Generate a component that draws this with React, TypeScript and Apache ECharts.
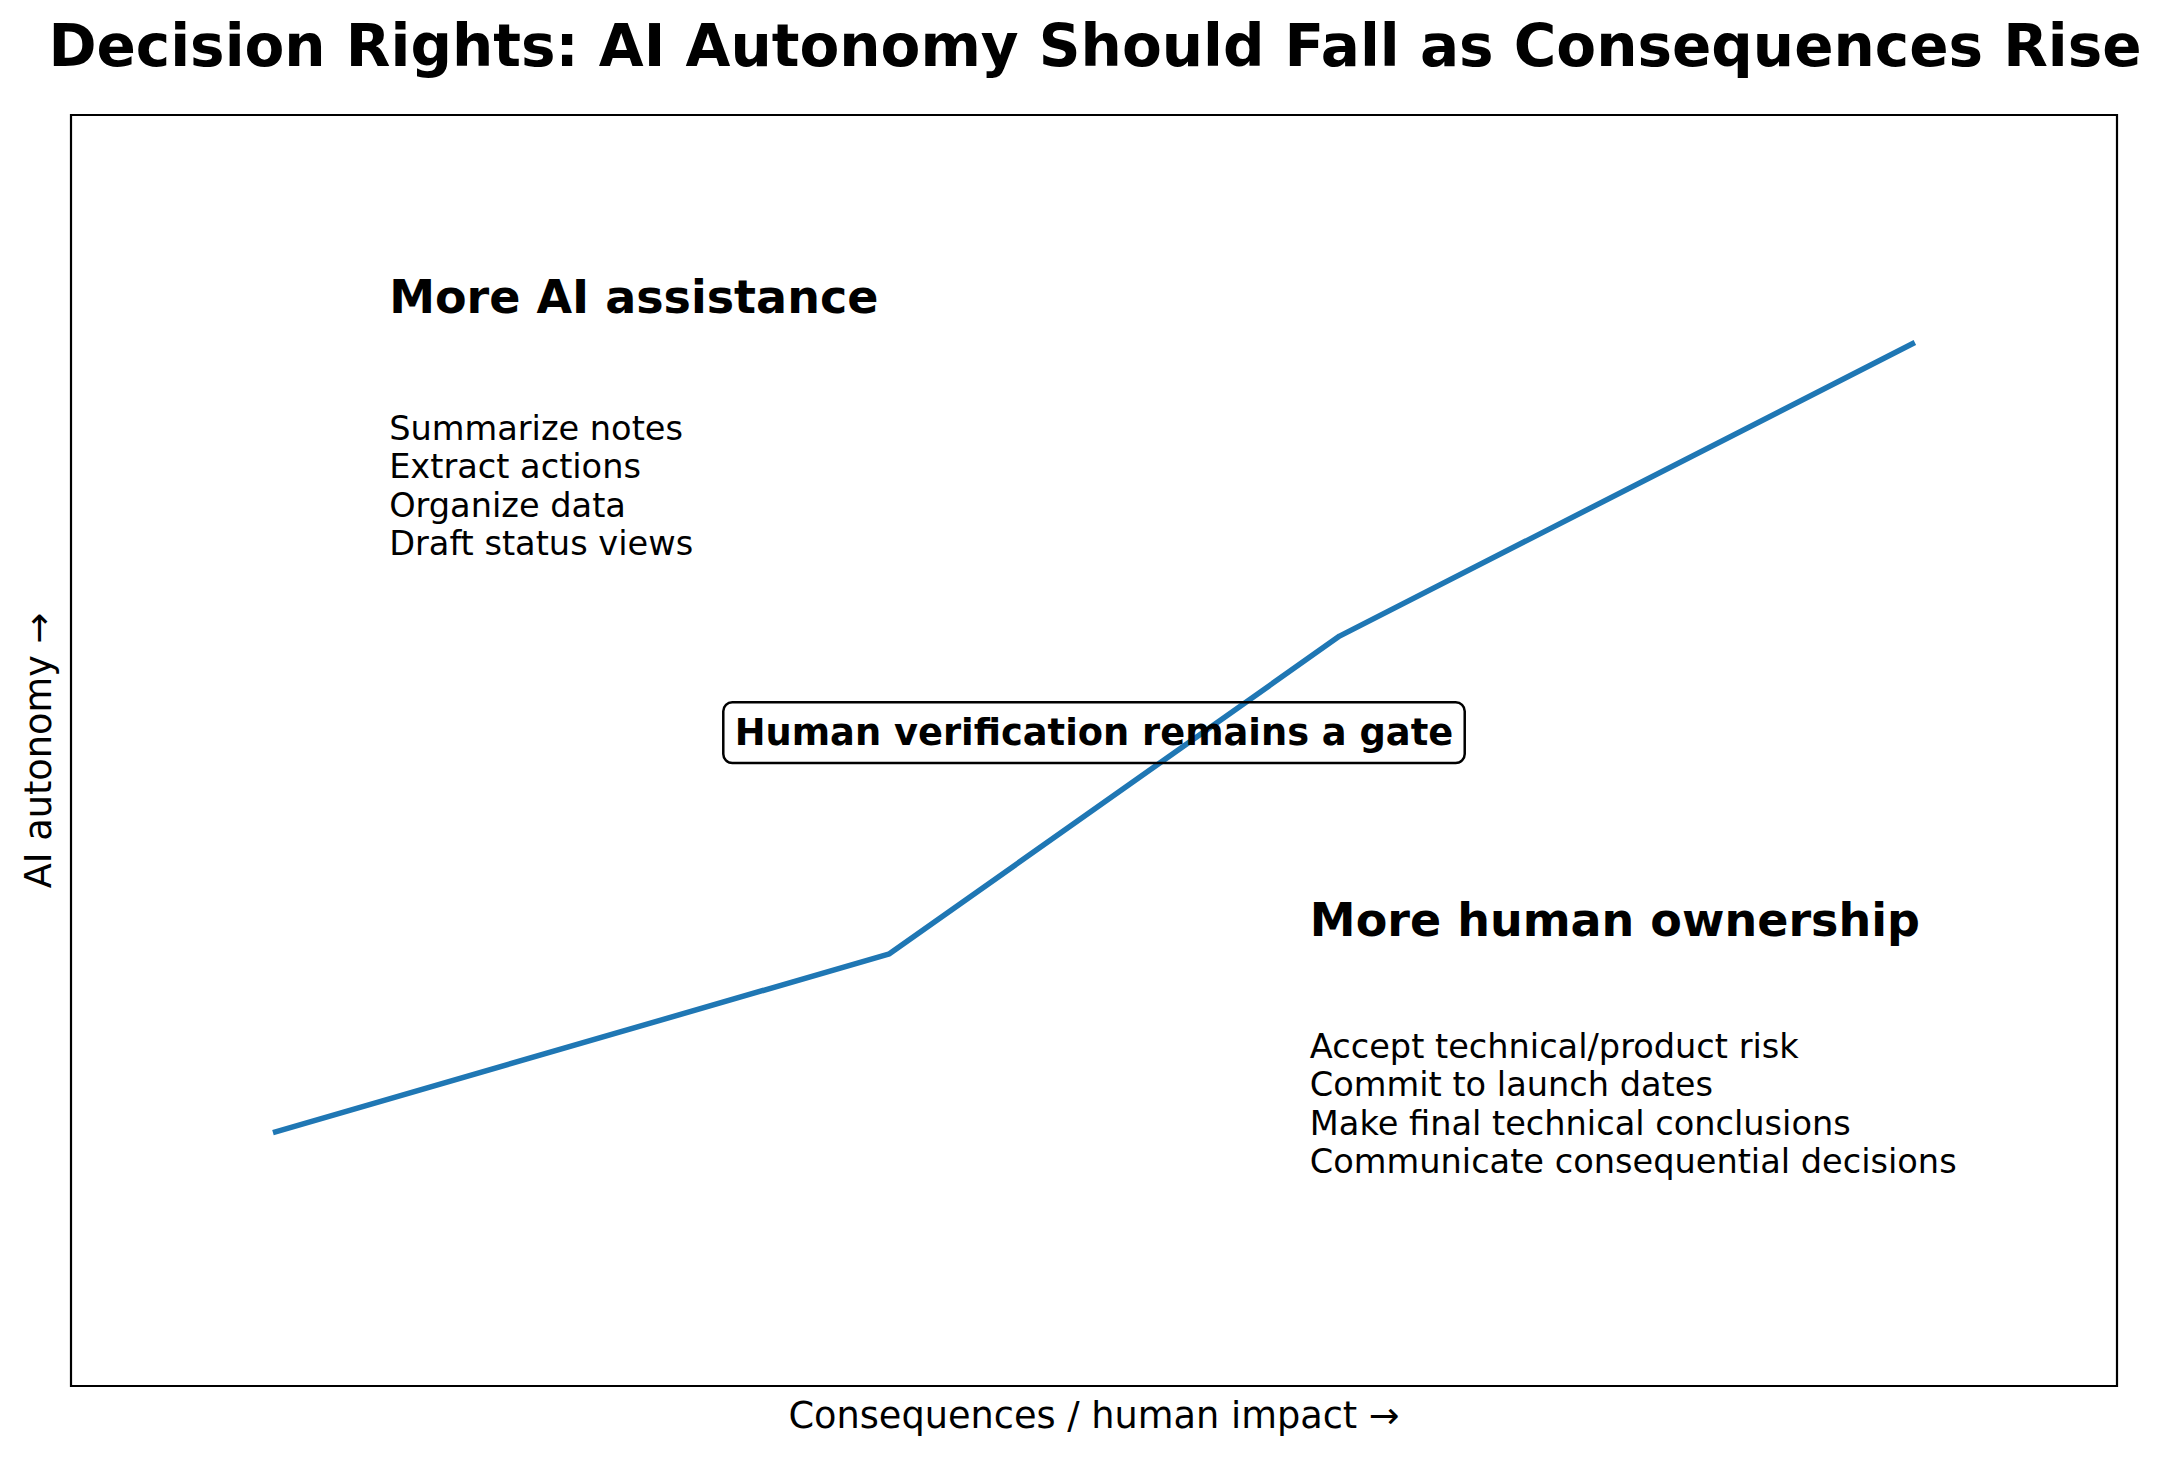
import React, { useEffect, useRef } from "react";
import * as echarts from "echarts";

const FONT = "'DejaVu Sans', 'Noto Sans', sans-serif";

// ---- data ----
const impactLevels = [0.1, 0.4, 0.62, 0.9];
const autonomyLevels = [0.2, 0.34, 0.59, 0.82];
const xRange = [0, 1];
const yRange = [0, 1];

// ---- texts ----
const chartTitle = "Decision Rights: AI Autonomy Should Fall as Consequences Rise";
const xAxisName = "Consequences / human impact →";
const yAxisName = "AI autonomy →";
const aiHeading = "More AI assistance";
const aiTasks = ["Summarize notes", "Extract actions", "Organize data", "Draft status views"];
const humanHeading = "More human ownership";
const humanTasks = [
  "Accept technical/product risk",
  "Commit to launch dates",
  "Make final technical conclusions",
  "Communicate consequential decisions",
];
const gateLabel = "Human verification remains a gate";

// ---- annotation anchors (data units) ----
const aiHeadingAt = [0.1555, 0.857];
const aiTasksAt = [0.1555, 0.7685];
const humanHeadingAt = [0.6055, 0.3665];
const humanTasksAt = [0.6055, 0.2822];
const gateAt = [0.5, 0.514];

export default function App() {
  const ref = useRef<HTMLDivElement>(null);

  useEffect(() => {
    if (!ref.current) return;
    const chart = echarts.init(ref.current, undefined, { renderer: "svg" });
    const lineData = impactLevels.map((x, i) => [x, autonomyLevels[i]]);

    chart.setOption({
      animation: false,
      backgroundColor: "#ffffff",
      title: {
        text: chartTitle,
        left: 1095,
        top: 17,
        textAlign: "center",
        padding: 0,
        textStyle: { fontFamily: FONT, fontSize: 58, fontWeight: "bold", color: "#000", lineHeight: 58 },
      },
      grid: {
        left: 71,
        top: 115,
        right: 45,
        bottom: 71,
        show: true,
        borderColor: "#000",
        borderWidth: 2.2,
        backgroundColor: "transparent",
        containLabel: false,
      },
      xAxis: {
        type: "value",
        min: xRange[0],
        max: xRange[1],
        name: xAxisName,
        nameLocation: "middle",
        nameGap: 11,
        nameTextStyle: { fontFamily: FONT, fontSize: 36.7, color: "#000", lineHeight: 36.7 },
        axisLine: { show: false },
        axisTick: { show: false },
        axisLabel: { show: false },
        splitLine: { show: false },
      },
      yAxis: {
        type: "value",
        min: yRange[0],
        max: yRange[1],
        name: yAxisName,
        nameLocation: "middle",
        nameRotate: 90,
        nameGap: 14,
        nameTextStyle: { fontFamily: FONT, fontSize: 36.7, color: "#000", lineHeight: 36.7 },
        axisLine: { show: false },
        axisTick: { show: false },
        axisLabel: { show: false },
        splitLine: { show: false },
      },
      series: [
        {
          type: "line",
          data: lineData,
          showSymbol: false,
          symbol: "none",
          lineStyle: { color: "#1f77b4", width: 5.5, cap: "square", join: "round" },
          z: 2,
        },
      ],
    });

    const px = (p: number[]) => chart.convertToPixel({ gridIndex: 0 }, p) as number[];
    const a1 = px(aiHeadingAt);
    const a2 = px(aiTasksAt);
    const h1 = px(humanHeadingAt);
    const h2 = px(humanTasksAt);
    const g = px(gateAt);

    const heading = (p: number[], text: string) => ({
      type: "text",
      x: p[0],
      y: p[1],
      z: 10,
      style: {
        text,
        fontFamily: FONT,
        fontSize: 46,
        fontWeight: "bold",
        fill: "#000",
        align: "left",
        verticalAlign: "middle",
      },
    });
    const list = (p: number[], lines: string[]) => ({
      type: "text",
      x: p[0],
      y: p[1],
      z: 10,
      style: {
        text: lines.join("\n"),
        fontFamily: FONT,
        fontSize: 33.6,
        lineHeight: 38.4,
        fill: "#000",
        align: "left",
        verticalAlign: "top",
      },
    });

    chart.setOption({
      graphic: [
        heading(a1, aiHeading),
        list(a2, aiTasks),
        heading(h1, humanHeading),
        list(h2, humanTasks),
        {
          type: "text",
          x: g[0],
          y: g[1],
          z: 10,
          style: {
            text: gateLabel,
            fontFamily: FONT,
            fontSize: 36.8,
            fontWeight: "bold",
            lineHeight: 36.8,
            fill: "#000",
            align: "center",
            verticalAlign: "middle",
            padding: [12, 11.5],
            borderColor: "#000",
            borderWidth: 2.5,
            borderRadius: 9,
          },
        },
      ],
    });

    return () => chart.dispose();
  }, []);

  return (
    <div
      ref={ref}
      style={{ position: "absolute", left: 0, top: 0, width: 2162, height: 1457 }}
    />
  );
}
